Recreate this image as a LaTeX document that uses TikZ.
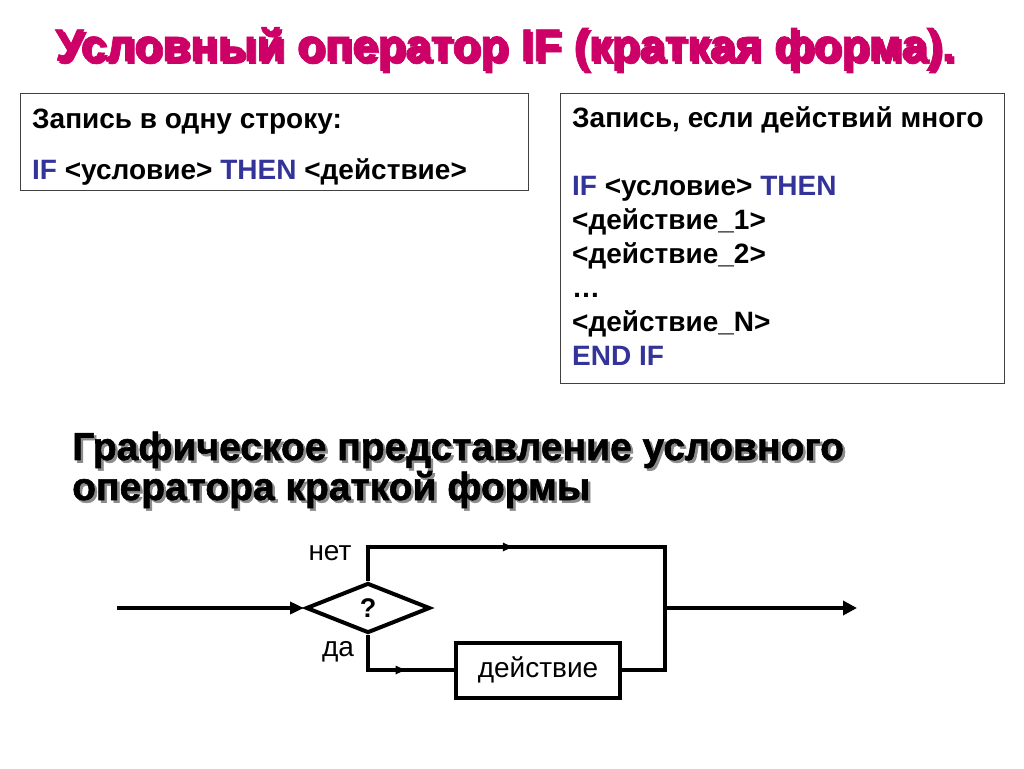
\documentclass[tikz,border=0pt]{standalone}
\usepackage{fontspec}
\setmainfont{Liberation Sans}
\newfontfamily\heavy[BoldFeatures={FakeBold=1.5}]{Liberation Sans}
\usetikzlibrary{shapes.geometric,arrows.meta,decorations.markings}
\definecolor{titlered}{RGB}{204,0,102}
\definecolor{kwblue}{RGB}{51,51,153}
\newcommand\shd[2]{\makebox[0pt][l]{\kern2.5pt\raisebox{-2.5pt}{\color{#1}#2}}#2}
\newcommand\kw[1]{\textcolor{kwblue}{#1}}
\tikzset{
 box/.style={draw=black!75,line width=1pt,anchor=north west,inner sep=0pt},
 code/.style={anchor=base west,inner sep=0pt,align=left,font=\bfseries\fontsize{28}{34}\selectfont},
 flow/.style={line width=4pt},
 midarrow/.style={postaction={decorate},decoration={markings,mark=at position #1 with {\arrow{Triangle[length=10pt,width=8pt]}}}},
 lbl/.style={inner sep=0pt,font=\fontsize{28}{28}\selectfont}
}
\begin{document}
\begin{tikzpicture}[x=1pt,y=-1pt]
 \useasboundingbox[fill=white] (0,0) rectangle (1024,768);
 \node[anchor=base west,inner sep=0pt,font=\heavy\bfseries\fontsize{45.5}{45.5}\selectfont] (title) at (55,61) {\shd{black!30}{\color{titlered}Условный оператор IF (краткая форма).}};
 \node[box,minimum width=508pt,minimum height=97pt] (one) at (20,93) {};
 \node[code] (onea) at (32,128) {Запись в одну строку:};
 \node[code] (oneb) at (32,179) {\kw{IF} <условие> \kw{THEN} <действие>};
 \node[box,minimum width=444pt,minimum height=290pt] (many) at (560,93) {};
 \node[code,anchor=north west] (manytext) at (572,106) {Запись, если действий много\\[34pt]
  \kw{IF} <условие> \kw{THEN}\\
  <действие\_1>\\
  <действие\_2>\\
  \ldots\\
  <действие\_N>\\
  \kw{END IF}};
 \node[anchor=base west,inner sep=0pt,align=left,font=\heavy\bfseries\fontsize{39}{40}\selectfont] (graph) at (72,500) {\shd{black!45}{Графическое представление условного}\\\shd{black!45}{оператора краткой формы}};
 \node[draw,flow,diamond,minimum width=124pt,minimum height=50pt,inner sep=0pt,font=\bfseries\fontsize{27}{27}\selectfont] (cond) at (368,608) {?};
 \node[draw,flow,minimum width=164pt,minimum height=55pt,inner sep=0pt,font=\fontsize{28}{28}\selectfont] (act) at (538,670) {действие};
 \coordinate (in) at (117,608);
 \coordinate (top) at (665,547);
 \coordinate (join) at (665,608);
 \coordinate (out) at (857,608);
 \draw[flow,-{Triangle[length=14pt,width=12pt]}] (in) -- (cond.west);
 \draw[flow,line join=miter,midarrow=0.36] (cond.north) |- (top) -- (top |- act.east) -- (act.east);
 \draw[flow,line join=miter,midarrow=0.6] (cond.south) |- (act.west);
 \draw[flow,-{Triangle[length=14pt,width=14pt]}] (join) -- (out);
 \node[lbl] (no) at (330,553) {нет};
 \node[lbl] (yes) at (338,652) {да};
\end{tikzpicture}
\end{document}
